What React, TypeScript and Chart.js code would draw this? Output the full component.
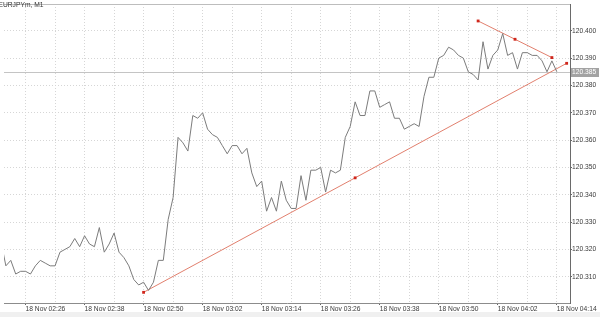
import React, { useEffect, useRef } from "react";
import { Chart, registerables } from "chart.js";

Chart.register(...registerables);

// ---- data -------------------------------------------------------------
const chartTitle = "EURJPYm, M1";
// M1 closes, one per minute, first bar = 18 Nov 02:21
const closes = [
  120.323, 120.314, 120.316, 120.311, 120.312, 120.312, 120.311, 120.314, 120.316, 120.315,
  120.314, 120.314, 120.319, 120.320, 120.321, 120.324, 120.321, 120.325, 120.322, 120.321,
  120.328, 120.319, 120.322, 120.326, 120.319, 120.317, 120.314, 120.309, 120.307, 120.308,
  120.305, 120.308, 120.316, 120.316, 120.331, 120.339, 120.361, 120.359, 120.356, 120.369,
  120.368, 120.370, 120.364, 120.362, 120.361, 120.358, 120.355, 120.358, 120.358, 120.355,
  120.357, 120.348, 120.343, 120.345, 120.334, 120.339, 120.334, 120.345, 120.338, 120.335,
  120.335, 120.347, 120.338, 120.349, 120.349, 120.350, 120.341, 120.349, 120.348, 120.349,
  120.361, 120.365, 120.374, 120.369, 120.369, 120.378, 120.378, 120.372, 120.373, 120.374,
  120.368, 120.368, 120.364, 120.365, 120.366, 120.365, 120.376, 120.383, 120.383, 120.390,
  120.391, 120.394, 120.393, 120.391, 120.390, 120.385, 120.384, 120.382, 120.396, 120.386,
  120.391, 120.393, 120.399, 120.391, 120.392, 120.386, 120.392, 120.392, 120.391, 120.391,
  120.389, 120.385, 120.389, 120.385,
];
// bar indices of the labelled time ticks and their labels
const timeTickIndex = [5, 17, 29, 41, 53, 65, 77, 89, 101, 113];
const timeTickLabels = [
  "18 Nov 02:26", "18 Nov 02:38", "18 Nov 02:50", "18 Nov 03:02", "18 Nov 03:14",
  "18 Nov 03:26", "18 Nov 03:38", "18 Nov 03:50", "18 Nov 04:02", "18 Nov 04:14",
];
// vertical grid every 6 bars
const timeGridIndex = [5, 11, 17, 23, 29, 35, 41, 47, 53, 59, 65, 71, 77, 83, 89, 95, 101, 107, 113];
const priceTicks = [120.31, 120.32, 120.33, 120.34, 120.35, 120.36, 120.37, 120.38, 120.39, 120.4];
// trend lines: anchor bar indices and prices
const supportX = [29, 115];
const supportY = [120.3043, 120.3881];
const resistX = [97, 112];
const resistY = [120.4036, 120.3902];

const X_MIN = 0.62;
const X_MAX = 115.68;
const Y_MIN = 120.3004;
const Y_MAX = 120.4098;

const FONT = "'Liberation Sans', Arial, sans-serif";
const FONT_SIZE = 6.7;

function trendPoints(xs: number[], ys: number[]) {
  return [
    { x: xs[0], y: ys[0] },
    { x: (xs[0] + xs[1]) / 2, y: (ys[0] + ys[1]) / 2 },
    { x: xs[1], y: ys[1] },
  ];
}

export default function App() {
  const ref = useRef<HTMLCanvasElement | null>(null);

  useEffect(() => {
    document.body.style.margin = "0";
    const canvas = ref.current;
    if (!canvas) return;

    const decor = {
      id: "decor",
      beforeDraw(chart: any) {
        const { ctx, width, height } = chart;
        ctx.save();
        ctx.fillStyle = "#ffffff";
        ctx.fillRect(0, 0, width, height);
        ctx.fillStyle = "#f0f0f0";
        ctx.fillRect(0, 312, width, height - 312);
        ctx.restore();
      },
      beforeDatasetsDraw(chart: any) {
        const { ctx, chartArea } = chart;
        const y = Math.round(chart.scales.y.getPixelForValue(closes[closes.length - 1])) + 0.5;
        ctx.save();
        ctx.strokeStyle = "#c4c4c4";
        ctx.lineWidth = 1;
        ctx.beginPath();
        ctx.moveTo(chartArea.left, y);
        ctx.lineTo(chartArea.right, y);
        ctx.stroke();
        // top border
        ctx.strokeStyle = "#bdbdbd";
        ctx.beginPath();
        ctx.moveTo(chartArea.left, Math.round(chartArea.top) + 0.5);
        ctx.lineTo(chartArea.right, Math.round(chartArea.top) + 0.5);
        ctx.stroke();
        ctx.restore();
      },
      afterDraw(chart: any) {
        const { ctx, chartArea } = chart;
        const last = closes[closes.length - 1];
        const y = chart.scales.y.getPixelForValue(last);
        ctx.save();
        ctx.fillStyle = "#a3a3a3";
        ctx.fillRect(chartArea.right + 1, Math.round(y) - 4, 28, 9);
        ctx.fillStyle = "#ffffff";
        ctx.font = `${FONT_SIZE}px ${FONT}`;
        ctx.textBaseline = "middle";
        ctx.textAlign = "left";
        ctx.fillText(last.toFixed(3), chartArea.right + 2, Math.round(y) + 0.5);
        // title
        ctx.fillStyle = "#333333";
        ctx.fillText(chartTitle, -1.5, 5.5);
        ctx.restore();
      },
    };

    const chart = new Chart(canvas, {
      type: "line",
      data: {
        datasets: [
          {
            data: closes.map((c, i) => ({ x: i, y: c })),
            borderColor: "#7c7c7c",
            borderWidth: 1,
            pointRadius: 0,
            tension: 0,
          },
          {
            data: trendPoints(supportX, supportY),
            borderColor: "#e2806e",
            borderWidth: 1,
            pointStyle: "rect",
            pointRadius: 2,
            pointBackgroundColor: "#d0261c",
            pointBorderWidth: 0,
            clip: false as any,
          },
          {
            data: trendPoints(resistX, resistY),
            borderColor: "#e2806e",
            borderWidth: 1,
            pointStyle: "rect",
            pointRadius: 2,
            pointBackgroundColor: "#d0261c",
            pointBorderWidth: 0,
            clip: false as any,
          },
        ],
      },
      options: {
        responsive: false,
        animation: false,
        events: [],
        layout: { padding: { top: 2, left: 0, right: 0, bottom: 0 } },
        plugins: { legend: { display: false }, tooltip: { enabled: false }, title: { display: false } },
        scales: {
          x: {
            type: "linear",
            position: "bottom",
            min: X_MIN,
            max: X_MAX,
            afterBuildTicks: (s: any) => {
              s.ticks = timeGridIndex.map((v) => ({ value: v }));
            },
            afterFit: (s: any) => {
              s.height = 14;
              s.paddingLeft = 0;
              s.paddingRight = 0;
            },
            ticks: {
              autoSkip: false,
              maxRotation: 0,
              minRotation: 0,
              align: "start",
              padding: 0,
              color: "#3a3a3a",
              font: { family: FONT, size: FONT_SIZE },
              callback: (v: any) => {
                const k = timeTickIndex.indexOf(Number(v));
                return k >= 0 ? timeTickLabels[k] : "";
              },
            },
            grid: {
              color: "#d6d6d6",
              lineWidth: 1,
              tickLength: 2,
              tickColor: (c: any) =>
                c.tick && timeTickIndex.indexOf(c.tick.value) >= 0 ? "#666666" : "rgba(0,0,0,0)",
            },
            border: { color: "#8c8c8c", width: 1, dash: [1, 2] },
          },
          y: {
            type: "linear",
            position: "right",
            min: Y_MIN,
            max: Y_MAX,
            afterBuildTicks: (s: any) => {
              s.ticks = priceTicks.map((v) => ({ value: v }));
            },
            afterFit: (s: any) => {
              s.width = 30;
            },
            ticks: {
              padding: 0,
              color: "#3a3a3a",
              font: { family: FONT, size: FONT_SIZE },
              callback: (v: any) => Number(v).toFixed(3),
            },
            grid: { color: "#d6d6d6", lineWidth: 1, tickLength: 2, tickColor: "#666666" },
            border: { color: "#6a6a6a", width: 1, dash: [1, 2] },
          },
        },
      },
      plugins: [decor],
    } as any);

    return () => chart.destroy();
  }, []);

  return (
    <div style={{ width: 600, height: 317, position: "relative" }}>
      <canvas ref={ref} width={600} height={317} style={{ display: "block", width: 600, height: 317 }} />
    </div>
  );
}
